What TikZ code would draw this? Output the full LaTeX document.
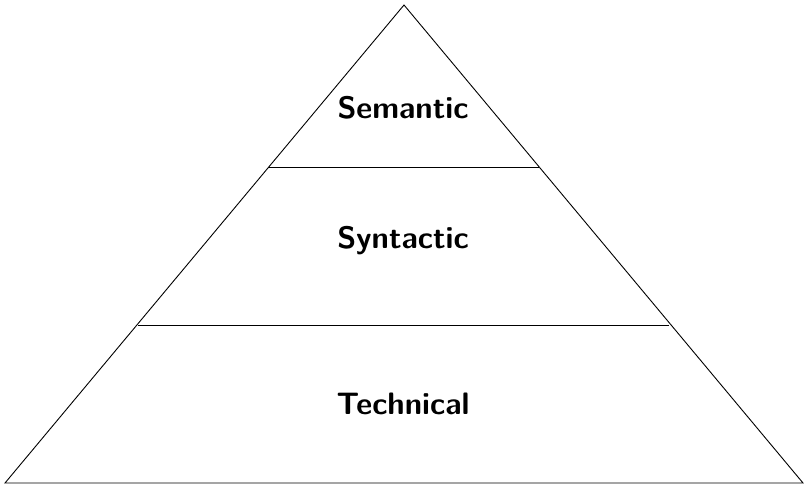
\documentclass[tikz,border=0pt]{standalone}
\begin{document}
\begin{tikzpicture}[x=1pt,y=-1pt,
  lbl/.style={font=\fontsize{31}{37}\selectfont\sffamily\bfseries, inner sep=0pt},
  edge/.style={line width=0.9pt}]
\useasboundingbox (0,0) rectangle (810,489);
\coordinate (apex) at (404,5);
\coordinate (bl) at (5,483);
\coordinate (br) at (803,483);
\coordinate (l1) at (268,167);
\coordinate (r1) at (539,167);
\coordinate (l2) at (138,325);
\coordinate (r2) at (669,325);
\draw[edge] (apex) -- (bl) -- (br) -- cycle;
\draw[edge] (l1) -- (r1);
\draw[edge] (l2) -- (r2);
\node[lbl] (sem) at (403,108) {Semantic};
\node[lbl] (syn) at (403,241) {Syntactic};
\node[lbl] (tec) at (403,404) {Technical};
\end{tikzpicture}
\end{document}
